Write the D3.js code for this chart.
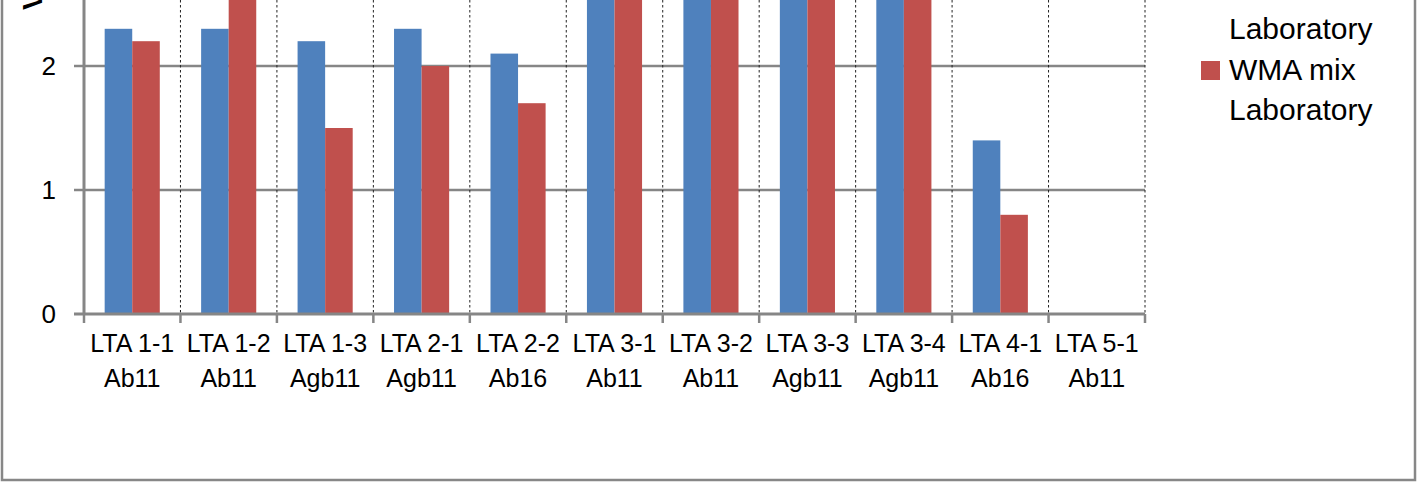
<!DOCTYPE html>
<html>
<head>
<meta charset="utf-8">
<script src="https://cdn.jsdelivr.net/npm/d3@7"></script>
<style>
html,body{margin:0;padding:0;background:#fff;}
svg{display:block;}
text{font-family:"Liberation Sans",Arial,sans-serif;fill:#000;}
</style>
</head>
<body>
<svg id="chart" width="1418" height="484"></svg>
<script>
// ---- data ----
const categoriesLine1 = ["LTA 1-1","LTA 1-2","LTA 1-3","LTA 2-1","LTA 2-2","LTA 3-1","LTA 3-2","LTA 3-3","LTA 3-4","LTA 4-1","LTA 5-1"];
const categoriesLine2 = ["Ab11","Ab11","Agb11","Agb11","Ab16","Ab11","Ab11","Agb11","Agb11","Ab16","Ab11"];
const seriesNames = ["Reference Laboratory","WMA mix Laboratory"];
const referenceLab = [2.3, 2.3, 2.2, 2.3, 2.1, 2.9, 3.0, 2.8, 3.1, 1.4, null];
const wmaMixLab    = [2.2, 2.7, 1.5, 2.0, 1.7, 3.0, 2.9, 3.1, 3.0, 0.8, null];
const yTicks = [0, 1, 2];
const yTitle = "Voids (%)";

// ---- layout ----
const svg = d3.select("#chart");
const left = 84, right = 1145, y0 = 314, pxPerUnit = 124;
const yMax = 3.5;
const colors = ["#4F81BD", "#C0504D"];

const x = d3.scaleBand().domain(d3.range(categoriesLine1.length)).range([left, right]).padding(0);
const y = d3.scaleLinear().domain([0, yMax]).range([y0, y0 - pxPerUnit * yMax]);
const bw = x.bandwidth();
const barW = bw / 3.5;
const inner = d3.scaleBand().domain([0,1]).range([(bw - 2*barW)/2, (bw - 2*barW)/2 + 2*barW]).padding(0);

// outer border
svg.append("rect").attr("x", 2).attr("y", -400).attr("width", 1413).attr("height", 880)
  .attr("fill", "#fff").attr("stroke", "#878787").attr("stroke-width", 2.5);

// gridlines
svg.append("g").selectAll("line").data([1, 2, 3]).join("line")
  .attr("x1", left - 10).attr("x2", right)
  .attr("y1", d => y(d)).attr("y2", d => y(d))
  .attr("stroke", "#868686").attr("stroke-width", 2.5);

// dashed category separators
svg.append("g").selectAll("line").data(d3.range(1, categoriesLine1.length + 1)).join("line")
  .attr("x1", i => left + i * bw).attr("x2", i => left + i * bw)
  .attr("y1", y(yMax)).attr("y2", y0)
  .attr("stroke", "#222").attr("stroke-width", 1).attr("stroke-dasharray", "2.5,2.5");

// bars
const series = [referenceLab, wmaMixLab];
series.forEach((vals, s) => {
  svg.append("g").selectAll("rect").data(vals.map((v, i) => ({v, i})).filter(d => d.v != null)).join("rect")
    .attr("x", d => x(d.i) + inner(s))
    .attr("width", inner.bandwidth())
    .attr("y", d => y(d.v))
    .attr("height", d => y0 - y(d.v))
    .attr("fill", colors[s]);
});

// y axis line
svg.append("line").attr("x1", left).attr("x2", left).attr("y1", y(yMax)).attr("y2", y0)
  .attr("stroke", "#868686").attr("stroke-width", 3);
// x axis line
svg.append("line").attr("x1", left - 10).attr("x2", right).attr("y1", y0).attr("y2", y0)
  .attr("stroke", "#868686").attr("stroke-width", 3);
// x ticks
svg.append("g").selectAll("line").data(d3.range(0, categoriesLine1.length + 1)).join("line")
  .attr("x1", i => left + i * bw).attr("x2", i => left + i * bw)
  .attr("y1", y0).attr("y2", y0 + 9)
  .attr("stroke", "#868686").attr("stroke-width", 2.5);

// y tick labels
svg.append("g").selectAll("text").data(yTicks).join("text")
  .attr("x", 56).attr("y", d => y(d)).attr("dy", "0.36em")
  .attr("text-anchor", "end").attr("font-size", 26)
  .text(d => d);

// category labels
const cl = svg.append("g").selectAll("text").data(d3.range(categoriesLine1.length)).join("text")
  .attr("text-anchor", "middle").attr("font-size", 25);
cl.append("tspan").attr("x", i => x(i) + bw/2).attr("y", 352).text(i => categoriesLine1[i]);
cl.append("tspan").attr("x", i => x(i) + bw/2).attr("y", 387).text(i => categoriesLine2[i]);

// y title (rotated, mostly cut off at top)
svg.append("text").attr("transform", "translate(42,10) rotate(-90)")
  .attr("font-size", 28).attr("font-weight", "bold").text(yTitle);

// legend
const legendLines = [["Reference", "Laboratory"], ["WMA mix", "Laboratory"]];
const lg = svg.append("g");
legendLines.forEach((lines, s) => {
  const base = -1 + s * 81;
  lg.append("rect").attr("x", 1201).attr("y", base - 19).attr("width", 19).attr("height", 19).attr("fill", colors[s]);
  const t = lg.append("text").attr("font-size", 30);
  lines.forEach((ln, k) => t.append("tspan").attr("x", 1229).attr("y", base + k * 40).text(ln));
});
</script>
</body>
</html>
